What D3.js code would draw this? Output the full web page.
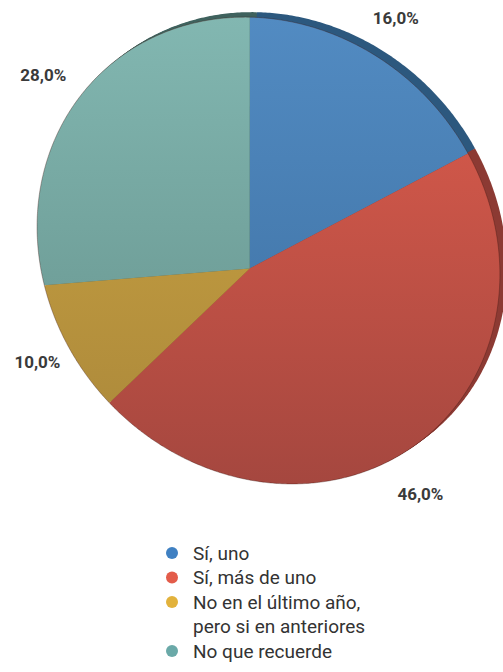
<!DOCTYPE html>
<html>
<head>
<meta charset="utf-8">
<script src="https://cdn.jsdelivr.net/npm/d3@7"></script>
<style>
  html, body { margin: 0; padding: 0; background: #ffffff; }
  svg { display: block; }
</style>
</head>
<body>
<svg id="chart" width="503" height="672"></svg>
<script>
// ---- data ----
const categories = ["Sí, uno", "Sí, más de uno", "No en el último año, pero si en anteriores", "No que recuerde"];
const values = [16, 46, 10, 28];
const legendLines = [["Sí, uno"], ["Sí, más de uno"], ["No en el último año,", "pero si en anteriores"], ["No que recuerde"]];

// ---- styles ----
const faceTop    = ["#528bc2", "#e05d4d", "#cfa843", "#82b7b1"];
const faceBottom = ["#3b6d9e", "#a5473f", "#a9863a", "#638f89"];
const sideColors = ["#2c587e", "#8c3a33", "#7d6224", "#3f625e"];
const dotColors  = ["#3f80c2", "#e35c4a", "#e2b23c", "#6aa9a8"];

const svg = d3.select("#chart");
const defs = svg.append("defs");

// Solve a dense linear system (Gauss-Jordan with partial pivoting).
function solveLinear(M, v) {
  const A = M.map(r => r.slice()), b = v.slice(), n = b.length;
  for (let i = 0; i < n; i++) {
    let p = i;
    for (let r = i + 1; r < n; r++) if (Math.abs(A[r][i]) > Math.abs(A[p][i])) p = r;
    [A[i], A[p]] = [A[p], A[i]]; [b[i], b[p]] = [b[p], b[i]];
    for (let r = 0; r < n; r++) {
      if (r === i) continue;
      const f = A[r][i] / A[i][i];
      for (let c = i; c < n; c++) A[r][c] -= f * A[i][c];
      b[r] -= f * b[i];
    }
  }
  return b.map((x, i) => x / A[i][i]);
}

// Perspective of the tilted disc: least-squares plane homography through
// calibration points (unit-disc coordinates -> screen pixels).
function fitHomography(pairs) {
  const rows = [], rhs = [];
  pairs.forEach(({ src: [x, y], dst: [u, v] }) => {
    rows.push([x, y, 1, 0, 0, 0, -x * u, -y * u]); rhs.push(u);
    rows.push([0, 0, 0, x, y, 1, -x * v, -y * v]); rhs.push(v);
  });
  const N = d3.range(8).map(i => d3.range(8).map(j => d3.sum(rows, r => r[i] * r[j])));
  const t = d3.range(8).map(i => d3.sum(rows, (r, k) => r[i] * rhs[k]));
  const h = solveLinear(N, t);
  return ([x, y]) => {
    const w = h[6] * x + h[7] * y + 1;
    return [(h[0] * x + h[1] * y + h[2]) / w, (h[3] * x + h[4] * y + h[5]) / w];
  };
}

const unit = (deg, r = 1) => {
  const a = deg * Math.PI / 180;
  return [r * Math.sin(a), -r * Math.cos(a)];
};
const project = fitHomography([
  { src: [0, 0],      dst: [250, 270] },
  { src: unit(0),     dst: [250, 18] },
  { src: unit(57.6),  dst: [468, 152] },
  { src: unit(170),   dst: [286, 484] },
  { src: unit(223.2), dst: [111, 403] },
  { src: unit(259.2), dst: [43, 284] }
]);

const pie = d3.pie().sort(null).value(d => d);
const arcs = pie(values);
const toDeg = rad => rad * 180 / Math.PI;

function slicePath(a0, a1, dx = 0, dy = 0) {
  const p = d3.path();
  const c = project([0, 0]);
  p.moveTo(c[0] + dx, c[1] + dy);
  const steps = Math.max(8, Math.ceil((a1 - a0) * 2));
  for (let i = 0; i <= steps; i++) {
    const q = project(unit(a0 + (a1 - a0) * i / steps));
    p.lineTo(q[0] + dx, q[1] + dy);
  }
  p.closePath();
  return p.toString();
}

// vertical shading range of the face
const ys = d3.range(0, 360, 2).map(d => project(unit(d))[1]);
const yMin = d3.min(ys), yMax = d3.max(ys);

arcs.forEach((d, i) => {
  const g = defs.append("linearGradient")
    .attr("id", "shade" + i)
    .attr("gradientUnits", "userSpaceOnUse")
    .attr("x1", 0).attr("x2", 0).attr("y1", yMin).attr("y2", yMax);
  g.append("stop").attr("offset", 0).attr("stop-color", faceTop[i]);
  g.append("stop").attr("offset", 1).attr("stop-color", faceBottom[i]);
});

// side of the disc (extruded towards the upper right)
const depth = [7, -5];
const sideG = svg.append("g");
d3.range(1, 6).forEach(k => {
  const t = k / 5;
  sideG.selectAll(null)
    .data(arcs)
    .join("path")
    .attr("d", d => slicePath(toDeg(d.startAngle), toDeg(d.endAngle), depth[0] * t, depth[1] * t))
    .attr("fill", (d, i) => sideColors[i]);
});

// face
svg.append("g")
  .selectAll("path")
  .data(arcs)
  .join("path")
  .attr("d", d => slicePath(toDeg(d.startAngle), toDeg(d.endAngle)))
  .attr("fill", (d, i) => `url(#shade${i})`);

// darker rim line on the face edge
svg.append("path")
  .attr("d", slicePath(0, 360).replace(/^M[^L]*L/, "M"))
  .attr("fill", "none")
  .attr("stroke", "rgba(60,20,15,0.35)")
  .attr("stroke-width", 1);

// value labels, placed just outside each slice's mid-angle
const locale = d3.formatLocale({ decimal: ",", thousands: ".", grouping: [3], currency: ["", "€"] });
const fmt = locale.format(".1f");
const labelRadius = [1.15, 1.19, 1.2, 1.18];
const labelPos = (d, i) => project(unit(toDeg((d.startAngle + d.endAngle) / 2), labelRadius[i]));
svg.append("g")
  .selectAll("text")
  .data(arcs)
  .join("text")
  .attr("x", (d, i) => labelPos(d, i)[0])
  .attr("y", (d, i) => labelPos(d, i)[1])
  .attr("text-anchor", "middle")
  .attr("dominant-baseline", "central")
  .attr("font-family", "Roboto, 'DejaVu Sans', sans-serif")
  .attr("font-weight", 700)
  .attr("font-size", 17)
  .attr("fill", "#3a3a3a")
  .text(d => fmt(d.data) + "%");

// legend
const legendX = 172, legendY = 553, rowH = 24.5;
let row = 0;
const legend = svg.append("g");
legendLines.forEach((lines, i) => {
  legend.append("circle")
    .attr("cx", legendX).attr("cy", legendY + row * rowH).attr("r", 6)
    .attr("fill", dotColors[i]);
  lines.forEach(line => {
    legend.append("text")
      .attr("x", legendX + 21).attr("y", legendY + row * rowH)
      .attr("dominant-baseline", "central")
      .attr("font-family", "Roboto, 'DejaVu Sans', sans-serif")
      .attr("font-size", 19)
      .attr("fill", "#333333")
      .text(line);
    row++;
  });
});
</script>
</body>
</html>
